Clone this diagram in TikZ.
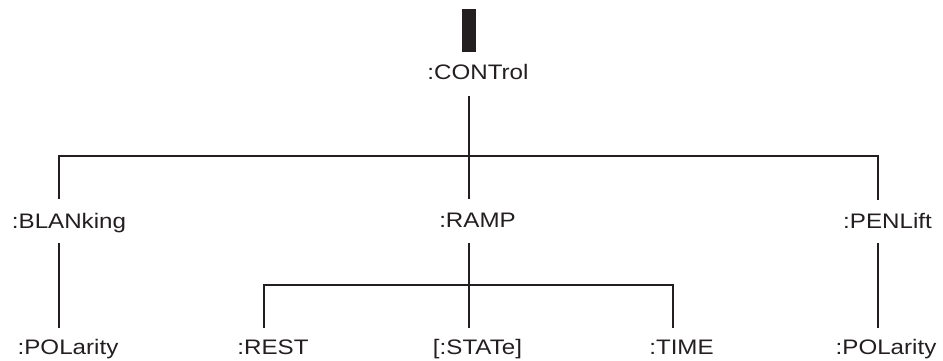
\documentclass[tikz,border=0pt]{standalone}
\usepackage{fontspec}
\setmainfont{Liberation Sans}[FakeStretch=1.15]
\definecolor{ink}{HTML}{231F20}
\begin{document}
\begin{tikzpicture}[x=1pt,y=-1pt,
  lbl/.style={anchor=base,inner sep=0pt,text=ink,font=\fontsize{21}{24}\selectfont},
  wire/.style={draw=ink,line width=2pt}]
\useasboundingbox (0,0) rectangle (943,361);
\fill[ink] (462,9) rectangle (476,52);
\node[lbl] (ctrl) at (478,80) {:CONTrol};
\node[lbl] (blank) at (69,228) {:BLANking};
\node[lbl] (ramp) at (477.5,227) {:RAMP};
\node[lbl] (pen) at (887.5,228) {:PENLift};
\node[lbl] (pol1) at (68,354) {:POLarity};
\node[lbl] (rest) at (273,354) {:REST};
\node[lbl] (state) at (477.5,354) {[:STATe]};
\node[lbl] (time) at (681.5,354) {:TIME};
\node[lbl] (pol2) at (886,354) {:POLarity};
% junction coordinates
\coordinate (c0) at (469,96);
\coordinate (c1) at (469,199);
\coordinate (hl) at (59,156);
\coordinate (hr) at (878,156);
\coordinate (b1) at (59,199);
\coordinate (b2) at (59,243);
\coordinate (b3) at (59,328);
\coordinate (p1) at (878,200);
\coordinate (p2) at (878,243);
\coordinate (p3) at (878,328);
\coordinate (r1) at (469,243);
\coordinate (r2) at (469,328);
\coordinate (sl) at (264,285);
\coordinate (sr) at (673,285);
\coordinate (s1) at (264,328);
\coordinate (s2) at (673,328);
\draw[wire] (c0) -- (c1);
\draw[wire] (b1) -- (hl) -- (hr) -- (p1);
\draw[wire] (b2) -- (b3);
\draw[wire] (p2) -- (p3);
\draw[wire] (r1) -- (r2);
\draw[wire] (s1) -- (sl) -- (sr) -- (s2);
\end{tikzpicture}
\end{document}
